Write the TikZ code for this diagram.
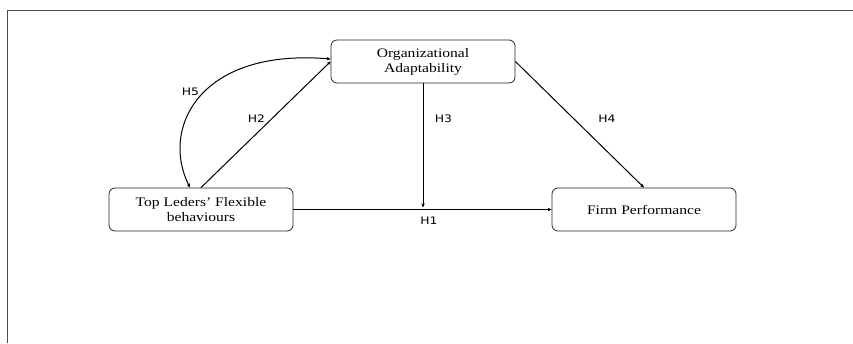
\documentclass[tikz,border=0pt]{standalone}
\usepackage{fontspec}
\setmainfont{Liberation Serif}[FakeStretch=1.2]
\newfontfamily\hypfont{DejaVu Sans}[FakeStretch=1.2]
\usetikzlibrary{arrows.meta}

\begin{document}
\begin{tikzpicture}[x=1pt, y=1pt,
    box/.style={draw=black!85, rounded corners=6pt, minimum width=184pt, minimum height=43pt,
        align=center, font=\fontsize{13}{15}\selectfont, line width=0.8pt},
    hyp/.style={font=\hypfont\fontsize{10.3}{12}\selectfont, inner sep=0pt},
    link/.style={line width=1pt, -{Stealth[length=4pt,width=3.5pt]}}]

    \useasboundingbox (0,0) rectangle (853,343);
    \draw[black!70, line width=0.8pt] (7,0) -- (7,333) -- (853,333);

    % constructs
    \node[box] (org) at (423,281.5) {Organizational\\Adaptability};
    \node[box] (top) at (201,133.5) {Top Leders’ Flexible\\behaviours};
    \node[box] (firm) at (644,133.5) {Firm Performance};

    % hypotheses
    \coordinate (meet) at (org.south |- top.east);
    \draw[link] (top) -- (firm);
    \draw[link] (org.south) -- ([yshift=2pt]meet);
    \draw[link] (top.north) -- (org.west);
    \draw[link] (org.east) -- (firm.north);
    \draw[link, {Stealth[length=4pt,width=3.5pt]}-{Stealth[length=4pt,width=3.5pt]}]
        ([yshift=2.5pt]org.west) .. controls (200,295) and (160,215) .. ([xshift=-11pt]top.north);

    \node[hyp] (h1) at (429,122.6) {H1};
    \node[hyp] (h2) at (256.5,224.5) {H2};
    \node[hyp] (h3) at (443.5,224) {H3};
    \node[hyp] (h4) at (607,224) {H4};
    \node[hyp] (h5) at (190.5,251.5) {H5};

\end{tikzpicture}
\end{document}
